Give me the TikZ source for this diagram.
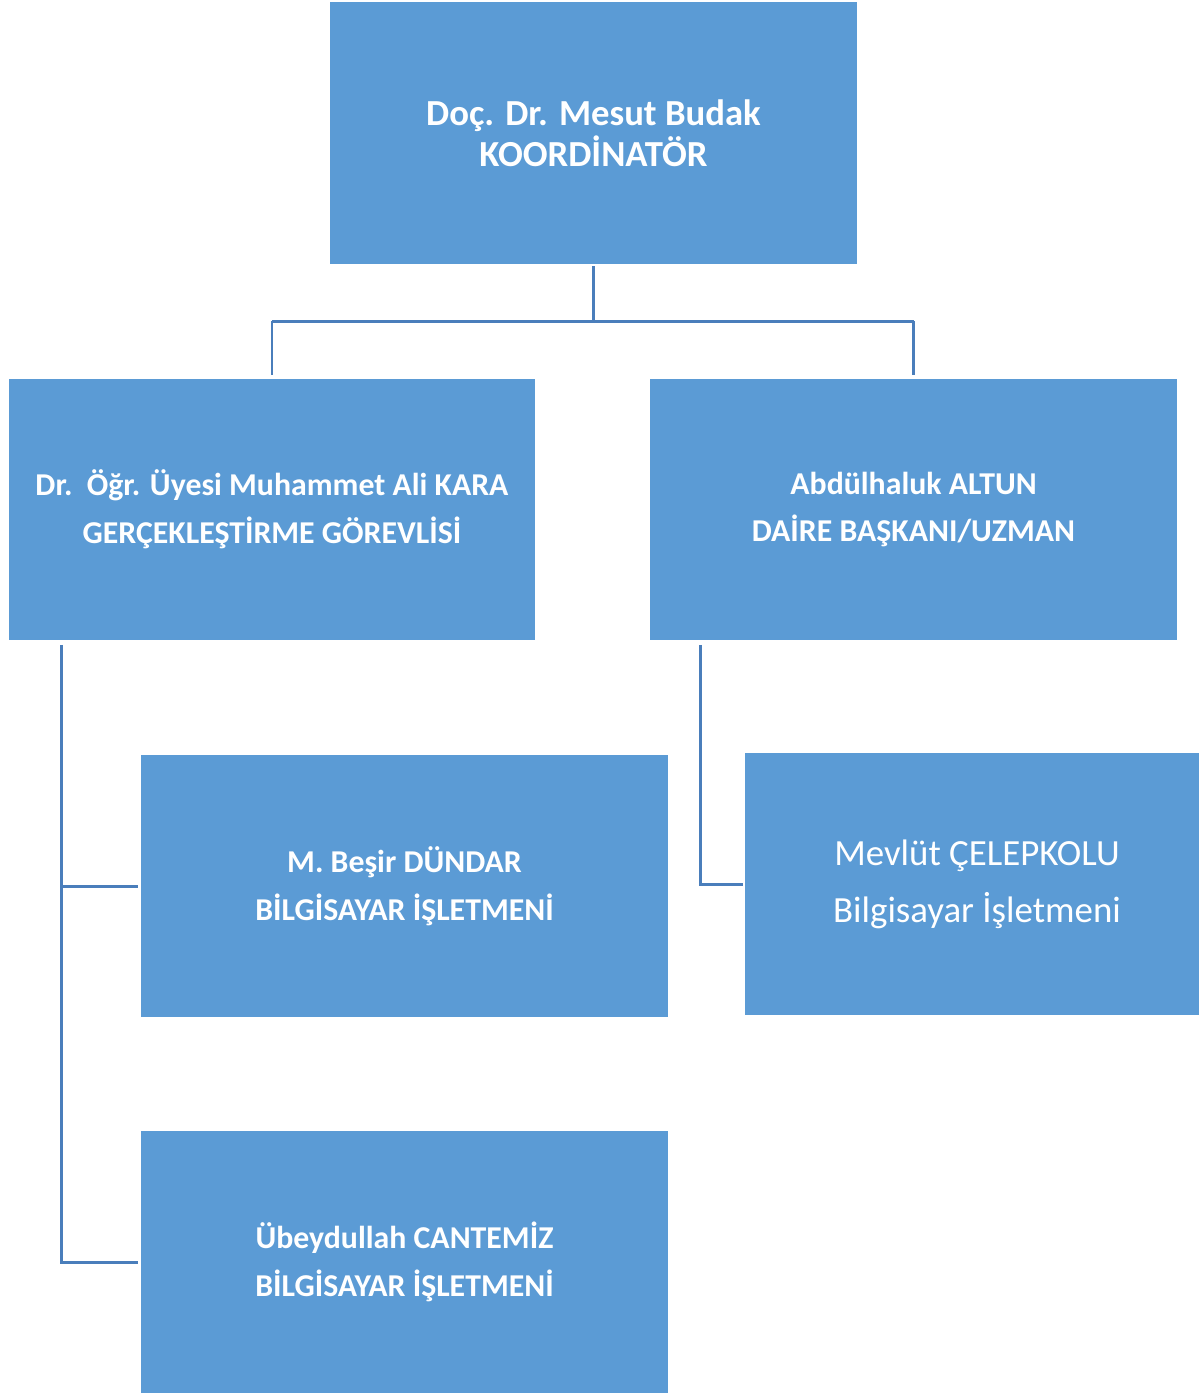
\documentclass[tikz,border=0pt]{standalone}
\usepackage{fontspec}
\setmainfont{Carlito}
\usetikzlibrary{calc}

\definecolor{boxblue}{HTML}{5B9BD5}
\definecolor{lineblue}{HTML}{4A7EBB}

\begin{document}
\begin{tikzpicture}[x=0.02cm,y=-0.02cm,
    box/.style={fill=boxblue, text=white, align=center, inner sep=0pt,
      minimum width=10.54cm, minimum height=5.24cm,
      font=\fontsize{18.1pt}{27.3pt}\selectfont\bfseries},
    conn/.style={draw=lineblue, line width=1.7pt}]
            \useasboundingbox (0,0) rectangle (1199,1393);
            % boxes
            \node [box, font=\fontsize{20.9pt}{23.3pt}\selectfont\bfseries] (koord) at (593.5,133) {Do\c{c}. Dr. Mesut Budak\\KOORD\.{I}NAT\"{O}R};
            \node [box] (kara) at (272,509.5) {Dr.\ \ \"{O}\u{g}r. \"{U}yesi Muhammet Ali KARA\\GER\c{C}EKLE\c{S}T\.{I}RME G\"{O}REVL\.{I}S\.{I}};
            \node [box] (altun) at (913.5,509.5) {Abd\"{u}lhaluk ALTUN\\DA\.{I}RE BA\c{S}KANI/UZMAN};
            \node [box] (dundar) at (404.5,886) {M. Be\c{s}ir D\"{U}NDAR\\B\.{I}LG\.{I}SAYAR \.{I}\c{S}LETMEN\.{I}};
            \node [box, minimum width=9.28cm, font=\fontsize{21pt}{32.4pt}\selectfont] (celep) at (977,884) {Mevl\"{u}t \c{C}ELEPKOLU\\Bilgisayar \.{I}\c{s}letmeni};
            \node [box] (cantemiz) at (404.5,1262) {\"{U}beydullah CANTEM\.{I}Z\\B\.{I}LG\.{I}SAYAR \.{I}\c{S}LETMEN\.{I}};
            % connectors
            \coordinate (fork) at ($(koord.south)+(0,57)$);
            \draw [conn] ([yshift=-0.04cm]koord.south) -- (fork);
            \draw [conn] (fork -| kara.north) -- (fork -| altun.north);
            \draw [conn] (fork -| kara.north) -- ([yshift=0.06cm]kara.north);
            \draw [conn] (fork -| altun.north) -- ([yshift=0.06cm]altun.north);
            \coordinate (lefttrunk) at ($(kara.south west)+(53,4)$);
            \draw [conn] (lefttrunk) |- ([xshift=-0.06cm]cantemiz.west);
            \draw [conn] (lefttrunk |- dundar.west) -- ([xshift=-0.06cm]dundar.west);
            \coordinate (righttrunk) at ($(altun.south west)+(51,4)$);
            \draw [conn] (righttrunk) |- ([xshift=-0.04cm]celep.west);
\end{tikzpicture}
\end{document}
